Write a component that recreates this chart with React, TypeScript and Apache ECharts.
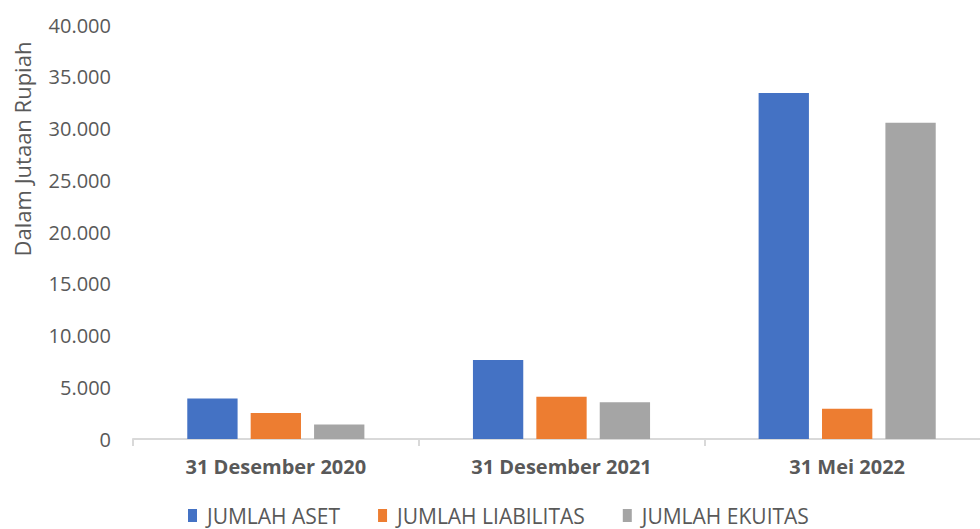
import React, { useEffect, useRef } from "react";
import * as echarts from "echarts";

const categories = ["31 Desember 2020", "31 Desember 2021", "31 Mei 2022"];
const seriesNames = ["JUMLAH ASET", "JUMLAH LIABILITAS", "JUMLAH EKUITAS"];
const jumlahAset = [3920, 7640, 33420];
const jumlahLiabilitas = [2510, 4080, 2920];
const jumlahEkuitas = [1400, 3560, 30550];
const colors = ["#4472C4", "#ED7D31", "#A5A5A5"];

const fmt = (v: number) => (v === 0 ? "0" : v.toLocaleString("de-DE"));

export default function App() {
  const ref = useRef<HTMLDivElement>(null);
  useEffect(() => {
    if (!ref.current) return;
    document.body.style.margin = "0";
    document.body.style.overflow = "hidden";
    const chart = echarts.init(ref.current, undefined, { renderer: "svg" });
    const data = [jumlahAset, jumlahLiabilitas, jumlahEkuitas];
    chart.setOption({
      animation: false,
      textStyle: { fontFamily: "Open Sans" },
      grid: { left: 133, right: 0, top: 25, bottom: 90 },
      legend: {
        top: 505,
        left: 188,
        padding: 0,
        itemWidth: 9,
        itemHeight: 13,
        itemGap: 38,
        icon: "rect",
        textStyle: { color: "#595959", fontSize: 21, lineHeight: 21, padding: [0, 0, 0, 5] },
        data: seriesNames,
      },
      xAxis: {
        type: "category",
        data: categories,
        axisLine: { lineStyle: { color: "#D9D9D9", width: 2 } },
        axisTick: { show: true, length: 7, lineStyle: { color: "#D9D9D9", width: 2 } },
        axisLabel: { color: "#595959", fontSize: 20, fontWeight: "bold", margin: 17 },
      },
      yAxis: {
        type: "value",
        min: 0,
        max: 40000,
        interval: 5000,
        name: "Dalam Jutaan Rupiah",
        nameLocation: "middle",
        nameGap: 100,
        nameTextStyle: { color: "#595959", fontSize: 22, padding: [0, 0, 0, 166] },
        axisLine: { show: false },
        axisTick: { show: false },
        splitLine: { show: false },
        axisLabel: { color: "#595959", fontSize: 20, margin: 22, formatter: fmt },
      },
      series: seriesNames.map((name, i) => ({
        name,
        type: "bar",
        data: data[i],
        barGap: "26%",
        barCategoryGap: "38%",
        itemStyle: { color: colors[i] },
      })),
    });
    return () => chart.dispose();
  }, []);
  return (
    <div style={{ width: 980, height: 529, overflow: "hidden" }}>
      <div ref={ref} style={{ width: 990, height: 529 }} />
    </div>
  );
}
